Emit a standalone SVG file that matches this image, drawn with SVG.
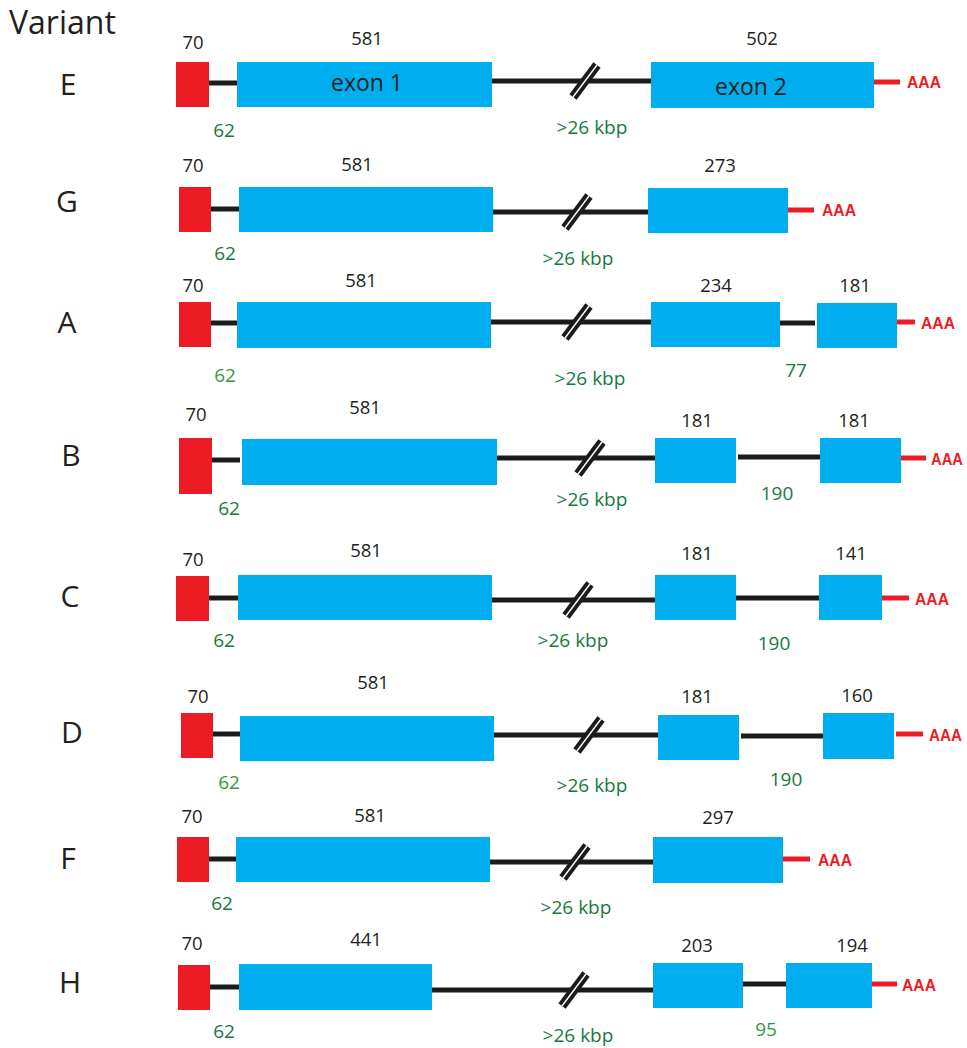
<svg xmlns="http://www.w3.org/2000/svg" width="967" height="1048" viewBox="0 0 967 1048">
  <style>
    text { font-family: "Open Sans", "Noto Sans", "Liberation Sans", sans-serif; }
    .ex { fill: #00aeef; }
    .cap { fill: #ed1c24; }
    .intr { stroke: #1c1a1b; stroke-width: 5; fill: none; }
    .tail { stroke: #ed1c24; stroke-width: 5; fill: none; }
    .len { font-size: 18.5px; fill: #231f20; text-anchor: middle; }
    .gap { font-size: 19px; fill: #17793d; text-anchor: middle; }
    .gap.lt { fill: #2f9a3a; }
    .exn { font-size: 23px; fill: #231f20; text-anchor: middle; }
    .aaa { font-family: "Liberation Sans", Arial, sans-serif; font-weight: bold; font-size: 17px; fill: #ed1c24; }
    .var { font-size: 30px; fill: #231f20; text-anchor: middle; }
    .title { font-size: 32px; fill: #231f20; }
  </style>
  <defs>
    <!-- "//" mark for a long, shortened intron -->
    <g id="brk">
      <line x1="-12" y1="16" x2="12" y2="-16" stroke="#1c1a1b" stroke-width="9"/>
      <line x1="-12" y1="16" x2="12" y2="-16" stroke="#ffffff" stroke-width="1.4"/>
    </g>
  </defs>

  <rect width="967" height="1048" fill="#ffffff"/>

  <text class="title" x="9" y="34">Variant</text>

  <!-- introns, breaks and poly-A tails -->
  <g id="connectors">
    <!-- E -->
    <line class="intr" x1="209" y1="83" x2="237" y2="83"/>
    <line class="intr" x1="492" y1="81" x2="651" y2="81"/>
    <use href="#brk" x="585" y="81"/>
    <line class="tail" x1="874" y1="82" x2="900" y2="82"/>
    <!-- G -->
    <line class="intr" x1="211" y1="209" x2="239" y2="209"/>
    <line class="intr" x1="493" y1="212" x2="648" y2="212"/>
    <use href="#brk" x="577" y="212"/>
    <line class="tail" x1="788" y1="210" x2="814" y2="210"/>
    <!-- A -->
    <line class="intr" x1="211" y1="323" x2="237" y2="323"/>
    <line class="intr" x1="491" y1="322" x2="651" y2="322"/>
    <use href="#brk" x="577" y="322"/>
    <line class="intr" x1="780" y1="323" x2="815" y2="323"/>
    <line class="tail" x1="897" y1="322" x2="915" y2="322"/>
    <!-- B -->
    <line class="intr" x1="212" y1="460" x2="240" y2="460"/>
    <line class="intr" x1="497" y1="458" x2="655" y2="458"/>
    <use href="#brk" x="590" y="458"/>
    <line class="intr" x1="738" y1="457" x2="820" y2="457"/>
    <line class="tail" x1="901" y1="458" x2="926" y2="458"/>
    <!-- C -->
    <line class="intr" x1="209" y1="598" x2="238" y2="598"/>
    <line class="intr" x1="492" y1="600" x2="655" y2="600"/>
    <use href="#brk" x="578" y="600"/>
    <line class="intr" x1="736" y1="598" x2="819" y2="598"/>
    <line class="tail" x1="882" y1="598" x2="909" y2="598"/>
    <!-- D -->
    <line class="intr" x1="213" y1="734" x2="240" y2="734"/>
    <line class="intr" x1="494" y1="735" x2="658" y2="735"/>
    <use href="#brk" x="589" y="735"/>
    <line class="intr" x1="741" y1="736" x2="823" y2="736"/>
    <line class="tail" x1="896" y1="734" x2="923" y2="734"/>
    <!-- F -->
    <line class="intr" x1="209" y1="859" x2="236" y2="859"/>
    <line class="intr" x1="490" y1="862" x2="653" y2="862"/>
    <use href="#brk" x="575" y="862"/>
    <line class="tail" x1="783" y1="859" x2="810" y2="859"/>
    <!-- H -->
    <line class="intr" x1="210" y1="987" x2="239" y2="987"/>
    <line class="intr" x1="432" y1="990" x2="653" y2="990"/>
    <use href="#brk" x="574" y="990"/>
    <line class="intr" x1="743" y1="984" x2="786" y2="984"/>
    <line class="tail" x1="872" y1="984" x2="897" y2="984"/>
  </g>

  <g id="variant-E">
    <text class="var" x="68" y="95">E</text>
    <rect class="cap" x="176" y="62" width="33" height="45"/>
    <rect class="ex" x="237" y="62" width="255" height="45"/>
    <rect class="ex" x="651" y="62" width="223" height="46"/>
    <text class="exn" x="367" y="91">exon 1</text>
    <text class="exn" x="751" y="95">exon 2</text>
    <text class="len" x="193" y="49">70</text>
    <text class="len" x="367" y="45">581</text>
    <text class="len" x="762" y="45">502</text>
    <text class="gap" x="224" y="137">62</text>
    <text class="gap" x="592" y="134">&gt;26 kbp</text>
    <text class="aaa" x="907" y="88" textLength="34" lengthAdjust="spacingAndGlyphs">AAA</text>
  </g>

  <g id="variant-G">
    <text class="var" x="67" y="212">G</text>
    <rect class="cap" x="179" y="187" width="32" height="45"/>
    <rect class="ex" x="239" y="187" width="254" height="45"/>
    <rect class="ex" x="648" y="188" width="140" height="45"/>
    <text class="len" x="193" y="172">70</text>
    <text class="len" x="357" y="171">581</text>
    <text class="len" x="720" y="172">273</text>
    <text class="gap" x="225" y="260">62</text>
    <text class="gap" x="578" y="265">&gt;26 kbp</text>
    <text class="aaa" x="822" y="216" textLength="34" lengthAdjust="spacingAndGlyphs">AAA</text>
  </g>

  <g id="variant-A">
    <text class="var" x="67" y="333">A</text>
    <rect class="cap" x="179" y="302" width="32" height="45"/>
    <rect class="ex" x="237" y="302" width="254" height="46"/>
    <rect class="ex" x="651" y="302" width="129" height="45"/>
    <rect class="ex" x="817" y="303" width="80" height="45"/>
    <text class="len" x="193" y="292">70</text>
    <text class="len" x="361" y="287">581</text>
    <text class="len" x="716" y="292">234</text>
    <text class="len" x="855" y="292">181</text>
    <text class="gap lt" x="225" y="382">62</text>
    <text class="gap" x="590" y="385">&gt;26 kbp</text>
    <text class="gap" x="796" y="377">77</text>
    <text class="aaa" x="921" y="329" textLength="34" lengthAdjust="spacingAndGlyphs">AAA</text>
  </g>

  <g id="variant-B">
    <text class="var" x="71" y="466">B</text>
    <rect class="cap" x="179" y="438" width="33" height="56"/>
    <rect class="ex" x="242" y="439" width="255" height="46"/>
    <rect class="ex" x="655" y="438" width="81" height="45"/>
    <rect class="ex" x="820" y="438" width="81" height="45"/>
    <text class="len" x="196" y="421">70</text>
    <text class="len" x="365" y="414">581</text>
    <text class="len" x="697" y="427">181</text>
    <text class="len" x="854" y="427">181</text>
    <text class="gap" x="229" y="515">62</text>
    <text class="gap" x="592" y="506">&gt;26 kbp</text>
    <text class="gap" x="777" y="500">190</text>
    <text class="aaa" x="931" y="465" textLength="32" lengthAdjust="spacingAndGlyphs">AAA</text>
  </g>

  <g id="variant-C">
    <text class="var" x="70" y="607">C</text>
    <rect class="cap" x="176" y="576" width="33" height="45"/>
    <rect class="ex" x="238" y="575" width="254" height="45"/>
    <rect class="ex" x="655" y="575" width="81" height="45"/>
    <rect class="ex" x="819" y="575" width="63" height="45"/>
    <text class="len" x="193" y="566">70</text>
    <text class="len" x="366" y="557">581</text>
    <text class="len" x="697" y="560">181</text>
    <text class="len" x="851" y="560">141</text>
    <text class="gap" x="224" y="647">62</text>
    <text class="gap" x="573" y="647">&gt;26 kbp</text>
    <text class="gap" x="774" y="650">190</text>
    <text class="aaa" x="915" y="605" textLength="34" lengthAdjust="spacingAndGlyphs">AAA</text>
  </g>

  <g id="variant-D">
    <text class="var" x="72" y="743">D</text>
    <rect class="cap" x="181" y="713" width="32" height="45"/>
    <rect class="ex" x="240" y="716" width="254" height="45"/>
    <rect class="ex" x="658" y="715" width="81" height="45"/>
    <rect class="ex" x="823" y="713" width="71" height="46"/>
    <text class="len" x="198" y="703">70</text>
    <text class="len" x="373" y="689">581</text>
    <text class="len" x="697" y="703">181</text>
    <text class="len" x="857" y="702">160</text>
    <text class="gap lt" x="229" y="789">62</text>
    <text class="gap" x="592" y="792">&gt;26 kbp</text>
    <text class="gap" x="786" y="786">190</text>
    <text class="aaa" x="929" y="741" textLength="33" lengthAdjust="spacingAndGlyphs">AAA</text>
  </g>

  <g id="variant-F">
    <text class="var" x="68" y="869">F</text>
    <rect class="cap" x="177" y="837" width="32" height="45"/>
    <rect class="ex" x="236" y="837" width="254" height="45"/>
    <rect class="ex" x="653" y="837" width="130" height="46"/>
    <text class="len" x="192" y="823">70</text>
    <text class="len" x="370" y="822">581</text>
    <text class="len" x="718" y="824">297</text>
    <text class="gap" x="222" y="910">62</text>
    <text class="gap" x="576" y="914">&gt;26 kbp</text>
    <text class="aaa" x="818" y="866" textLength="34" lengthAdjust="spacingAndGlyphs">AAA</text>
  </g>

  <g id="variant-H">
    <text class="var" x="70" y="993">H</text>
    <rect class="cap" x="178" y="965" width="32" height="45"/>
    <rect class="ex" x="239" y="964" width="193" height="46"/>
    <rect class="ex" x="653" y="963" width="90" height="45"/>
    <rect class="ex" x="786" y="963" width="86" height="45"/>
    <text class="len" x="192" y="950">70</text>
    <text class="len" x="366" y="946">441</text>
    <text class="len" x="697" y="952">203</text>
    <text class="len" x="852" y="952">194</text>
    <text class="gap" x="224" y="1038">62</text>
    <text class="gap" x="578" y="1042">&gt;26 kbp</text>
    <text class="gap lt" x="766" y="1036">95</text>
    <text class="aaa" x="902" y="991" textLength="34" lengthAdjust="spacingAndGlyphs">AAA</text>
  </g>
</svg>
